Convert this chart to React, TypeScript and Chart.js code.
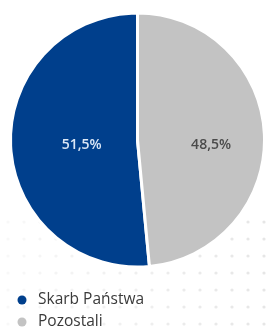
import React, { useEffect, useRef } from "react";
import { Chart, registerables } from "chart.js";

Chart.register(...registerables);

const labels = ["Skarb Państwa", "Pozostali"];
const values = [51.5, 48.5];
const valueLabels = ["51,5%", "48,5%"];
const colors = ["#003f8c", "#c3c3c3"];
const labelColors = ["#dbe7f6", "#4a4a4a"];
const labelSpread = [0.88, 1.16];

const sliceLabelPlugin = {
  id: "sliceLabels",
  afterDatasetsDraw(chart: any) {
    const { ctx } = chart;
    const meta = chart.getDatasetMeta(0);
    ctx.save();
    ctx.font = "600 14px 'Open Sans', sans-serif";
    ctx.textAlign = "center";
    ctx.textBaseline = "middle";
    meta.data.forEach((arc: any, i: number) => {
      const p = arc.getCenterPoint();
      const cx = arc.x;
      const cy = arc.y;
      const x = cx + (p.x - cx) * labelSpread[i];
      const y = cy + 5;
      ctx.fillStyle = labelColors[i];
      ctx.fillText(valueLabels[i], x, y);
    });
    ctx.restore();
  },
};

const legendPlugin = {
  id: "customLegend",
  afterDraw(chart: any) {
    const { ctx } = chart;
    ctx.save();
    ctx.font = "15.5px 'Open Sans', sans-serif";
    ctx.textBaseline = "middle";
    ctx.textAlign = "left";
    labels.forEach((lab, i) => {
      const y = 300 + i * 22;
      ctx.fillStyle = colors[i];
      ctx.beginPath();
      ctx.arc(22, y, 4.5, 0, Math.PI * 2);
      ctx.fill();
      ctx.fillStyle = "#3a3a3a";
      ctx.fillText(lab, 38, y);
    });
    ctx.restore();
  },
};

const dotsPlugin = {
  id: "dots",
  beforeDraw(chart: any) {
    const { ctx, width, height } = chart;
    ctx.save();
    for (let y = 222; y < height; y += 17) {
      for (let x = 8; x < width; x += 16) {
        const a = 0.08 + 0.22 * (x / width);
        ctx.fillStyle = `rgba(170,170,170,${a})`;
        ctx.beginPath();
        ctx.arc(x, y, 1.6, 0, Math.PI * 2);
        ctx.fill();
      }
    }
    ctx.restore();
  },
};

export default function App() {
  const ref = useRef<HTMLCanvasElement>(null);
  useEffect(() => {
    const chart = new Chart(ref.current!, {
      type: "pie",
      data: {
        labels,
        datasets: [
          {
            data: values,
            backgroundColor: colors,
            borderColor: "#ffffff",
            borderWidth: 3,
          },
        ],
      },
      options: {
        animation: false,
        responsive: false,
        rotation: (values[1] / (values[0] + values[1])) * 360,
        layout: { padding: { left: 9, right: 0, top: 11, bottom: 62 } },
        plugins: {
          legend: { display: false },
          tooltip: { enabled: false },
        },
      },
      plugins: [dotsPlugin, sliceLabelPlugin, legendPlugin],
    });
    return () => chart.destroy();
  }, []);
  return (
    <div style={{ position: "fixed", left: 0, top: 0, width: 266, height: 331, background: "#fff" }}>
      <canvas ref={ref} width={266} height={331} />
    </div>
  );
}
